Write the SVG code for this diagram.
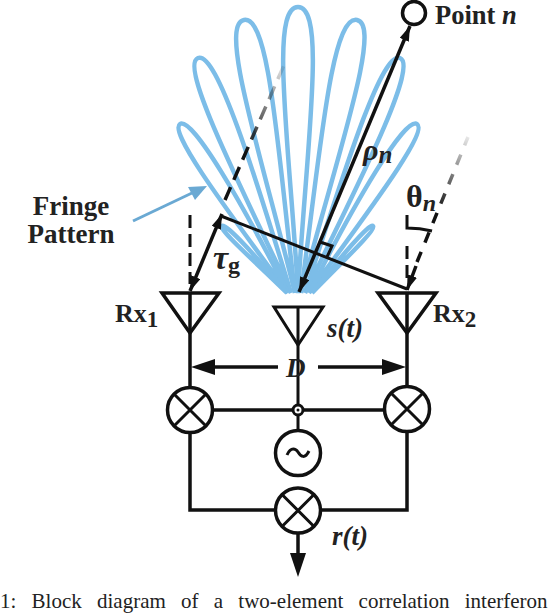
<svg xmlns="http://www.w3.org/2000/svg" width="556" height="614" viewBox="0 0 556 614">
<style>
.lobe{fill:none;stroke:#7cbde8;stroke-width:4.500}
.ln{fill:none;stroke:#111;stroke-width:3}
.thick{fill:none;stroke:#111;stroke-width:3.500}
.dash{fill:none;stroke:#111;stroke-width:3;stroke-dasharray:13 6}
.ring{fill:#fff;stroke:#111;stroke-width:3.500}
.t{font-family:"Liberation Serif",serif;font-weight:bold;fill:#222}
.i{font-style:italic}
.hd{fill:#111}
</style>
<defs>
<linearGradient id="fadeL" gradientUnits="userSpaceOnUse" x1="226" y1="200" x2="284" y2="65"><stop offset="0.35" stop-color="#111"/><stop offset="1" stop-color="#111" stop-opacity="0.1"/></linearGradient>
<linearGradient id="fadeR" gradientUnits="userSpaceOnUse" x1="417" y1="262" x2="468" y2="137"><stop offset="0.4" stop-color="#111"/><stop offset="1" stop-color="#111" stop-opacity="0.1"/></linearGradient>
<marker id="ah" markerUnits="userSpaceOnUse" markerWidth="16" markerHeight="12" refX="15" refY="5" orient="auto-start-reverse"><path d="M0 0L15 5L0 10z" fill="#111"/></marker>
</defs>
<g id="fringe-pattern">
<path class="lobe" d="M298 293C290 150 269 7 298 7C327 7 306 150 298 293"/>
<path class="lobe" d="M295 293C262 158 218 25 244 20C270 15 278 155 295 293"/>
<path class="lobe" d="M291 293C237 179 179.500 65.600 198 58C216.500 50.400 254 172 291 293"/>
<path class="lobe" d="M288 293C229.400 213 168 132 180 124C192 116 242.600 204 288 293"/>
<path class="lobe" d="M287 293C254.500 261 218.500 229.500 222 226C225.500 222.500 257.500 258 287 293"/>
<path class="lobe" d="M301 293C320 155 331 15 357 20C383 25 336 158 301 293"/>
<path class="lobe" d="M305 293C344 172 381.500 50.400 400 58C418.500 65.600 361 179 305 293"/>
<path class="lobe" d="M309 293C354 204 405 116 417 124C429 132 367 213 309 293"/>
<path class="lobe" d="M312 293C340 258 369.500 222.500 373 226C376.500 229.500 343 261 312 293"/>
</g>
<g id="connectors">
<path d="M133 221L192 193" fill="none" stroke="#6aa9d3" stroke-width="3"/>
<path d="M207 186L188 187L195 200z" fill="#6aa9d3"/>
<path class="dash" d="M190 215V284"/>
<path class="dash" d="M407 246V284"/>
<path d="M225 200L284 65" fill="none" stroke="url(#fadeL)" stroke-width="3.500" stroke-dasharray="14 8"/>
<path d="M417 262L468 137" fill="none" stroke="url(#fadeR)" stroke-width="3.500" stroke-dasharray="11 10"/>
<path class="ln" d="M221 216L407 289"/>
<path class="thick" d="M222 214L190 291" marker-start="url(#ah)" marker-end="url(#ah)"/>
<path class="thick" d="M299 292L410 26" marker-start="url(#ah)" marker-end="url(#ah)"/>
<path class="thick" d="M416 266L407 290" marker-end="url(#ah)"/>
<path class="ln" d="M320 242L332 246L327 257"/>
<path class="ln" d="M407 215V228C415 228 424 229 432 231"/>
<path class="thick" d="M190 293V388"/>
<path class="thick" d="M407 293V388"/>
<path class="ln" d="M298 345V432"/>
<path class="thick" d="M212 410H385"/>
<path class="thick" d="M190 432V510H276"/>
<path class="thick" d="M407 431V510H320"/>
<path class="thick" d="M298 533V556"/>
<path d="M290 553H306L298 577z" class="hd"/>
<path class="thick" d="M215 367H278"/>
<path class="thick" d="M318 367H382"/>
<path d="M191 367L215 359V375z" class="hd"/>
<path d="M406 367L382 359V375z" class="hd"/>
</g>
<g id="point-n">
<circle cx="414" cy="13" r="11.500" fill="#fff" stroke="#111" stroke-width="3.500"/>
<text class="t" x="435" y="24" font-size="26.500">Point <tspan class="i">n</tspan></text>
</g>
<g id="rx1">
<path class="thick" d="M162 293H219L190 333z"/>
<text class="t" x="115" y="322" font-size="26">Rx<tspan font-size="23" dy="5">1</tspan></text>
</g>
<g id="tx">
<path class="ln" d="M274 307H323L298 345z"/>
<path class="ln" d="M298 307V345"/>
<text class="t i" x="327" y="337" font-size="27">s(t)</text>
</g>
<g id="rx2">
<path class="thick" d="M378 293H436L407 333z"/>
<text class="t" x="433" y="322" font-size="26">Rx<tspan font-size="23" dy="5">2</tspan></text>
</g>
<g id="labels">
<text class="t" x="71" y="215" font-size="27" text-anchor="middle">Fringe</text>
<text class="t" x="71" y="243" font-size="27" text-anchor="middle">Pattern</text>
<text class="t i" x="213" y="269" font-size="34">τ<tspan font-size="24" font-style="normal" dy="4">g</tspan></text>
<text class="t i" x="363" y="160" font-size="30" font-weight="normal">ρ<tspan font-size="25" dy="3" font-weight="bold">n</tspan></text>
<text class="t" x="406" y="207" font-size="32">θ<tspan class="i" font-size="24" dy="4">n</tspan></text>
<text class="t i" x="286" y="377" font-size="27">D</text>
<text class="t i" x="332" y="545" font-size="27">r(t)</text>
</g>
<g id="mixer-1">
<circle class="ring" cx="190" cy="410" r="22.500"/>
<path class="ln" d="M174 394L206 426M206 394L174 426"/>
</g>
<g id="mixer-2">
<circle class="ring" cx="407" cy="409" r="22.500"/>
<path class="ln" d="M391 393L423 425M423 393L391 425"/>
</g>
<g id="mixer-3">
<circle class="ring" cx="298" cy="510.500" r="22.500"/>
<path class="ln" d="M282 494.500L314 526.500M314 494.500L282 526.500"/>
</g>
<g id="oscillator">
<circle class="ring" cx="298" cy="453" r="22.500"/>
<path class="ln" d="M287 455C291 446 296 449 298 452C301 457 305 459 309 451"/>
</g>
<g id="junction">
<circle cx="298" cy="410" r="5" fill="#fff" stroke="#111" stroke-width="3"/>
<circle cx="298" cy="410" r="1.500" fill="#111"/>
</g>
<text x="0" y="608" font-family="Liberation Serif,serif" font-size="21" fill="#222" word-spacing="10">1: Block diagram of a two-element correlation interferon</text>
</svg>
